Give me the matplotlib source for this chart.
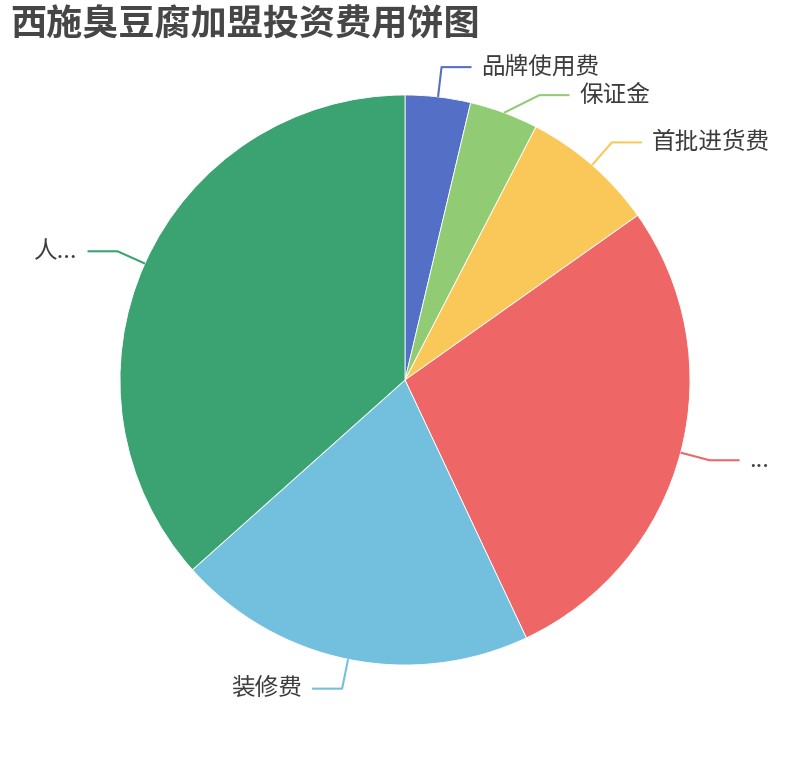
import numpy as np
import matplotlib
matplotlib.use("Agg")
import matplotlib.pyplot as plt

plt.rcParams['font.family'] = ['Noto Sans CJK SC', 'DejaVu Sans']

# shown labels (two are truncated in the original chart)
labels = ["品牌使用费", "保证金", "首批进货费", "...", "装修费", "人..."]
values = [3.7, 3.9, 7.6, 27.8, 20.4, 36.6]
colors = ["#5470c6", "#91cc75", "#fac858", "#ee6666", "#73c0de", "#3ba272"]
title = "西施臭豆腐加盟投资费用饼图"

W, H = 810, 760
fig = plt.figure(figsize=(W / 100, H / 100), dpi=100)
ax = fig.add_axes([0, 0, 1, 1])
ax.set_xlim(0, W)
ax.set_ylim(0, H)
ax.set_aspect("equal")
ax.axis("off")

cx, cy, r = 405, H - 380, 285
wedges, _ = ax.pie(values, colors=colors, startangle=90, counterclock=False,
                   center=(cx, cy), radius=r,
                   wedgeprops=dict(edgecolor="white", linewidth=0.6))
ax.set_xlim(0, W)
ax.set_ylim(0, H)

len1, len2, gap, line_h = 30, 30, 10, 28
r1 = r + len1

# first pass: radial bend points
items = []
for w, lab, col in zip(wedges, labels, colors):
    mid = np.deg2rad((w.theta1 + w.theta2) / 2)
    x0, y0 = cx + r * np.cos(mid), cy + r * np.sin(mid)
    y1 = cy + r1 * np.sin(mid)
    side = 1 if np.cos(mid) >= 0 else -1
    items.append(dict(x0=x0, y0=y0, y1=y1, side=side, lab=lab, col=col))

# simple overlap avoidance: push labels down on each side
for side in (1, -1):
    group = sorted([it for it in items if it["side"] == side], key=lambda it: -it["y1"])
    for prev, cur in zip(group, group[1:]):
        if prev["y1"] - cur["y1"] < line_h:
            cur["y1"] = prev["y1"] - line_h

for it in items:
    side, y1 = it["side"], it["y1"]
    dy = min(abs(y1 - cy), r1)
    x1 = cx + side * np.sqrt(r1 ** 2 - dy ** 2)
    x2 = x1 + side * len2
    ax.plot([it["x0"], x1, x2], [it["y0"], y1, y1], color=it["col"], lw=1.5,
            solid_capstyle="butt")
    ax.text(x2 + side * gap, y1, it["lab"], ha="left" if side > 0 else "right",
            va="center", fontsize=17, color="#3c3c3c")

fig.text(10 / W, 1 - 25 / H, title, fontsize=26, fontweight="bold",
         color="#464646", ha="left", va="center")

fig.savefig("out.png", dpi=100, facecolor="white")
